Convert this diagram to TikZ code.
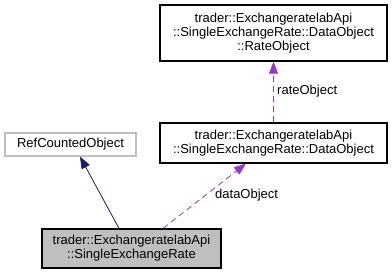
\documentclass[tikz,border=0pt]{standalone}
\usepackage{fontspec}
\setmainfont{Liberation Sans}
\usetikzlibrary{arrows.meta}
\definecolor{edgeblue}{HTML}{191970}
\definecolor{edgepurple}{HTML}{9A32CD}
\definecolor{grey75}{HTML}{BFBFBF}
\begin{document}
\begin{tikzpicture}[x=1pt,y=-1pt,
  font=\fontsize{13}{14.2}\selectfont,
  classbox/.style={draw=black, line width=1.2pt, align=center, inner sep=0pt},
  plainbox/.style={draw=grey75, line width=1.2pt, align=center, inner sep=0pt},
  inherit/.style={draw=edgeblue, line width=0.8pt, -{Triangle[length=12pt,width=9pt]}},
  usage/.style={draw=edgepurple, line width=0.8pt, dash pattern=on 6pt off 4pt, -{Triangle[length=12pt,width=9pt]}},
  edgelabel/.style={inner sep=0pt, anchor=west}]
  \useasboundingbox (0,0) rectangle (392,275);

  \node[classbox, minimum width=227pt, minimum height=56pt] (rate) at (273.5,33)
    {trader::ExchangeratelabApi\\::SingleExchangeRate::DataObject\\::RateObject};
  \node[classbox, minimum width=227pt, minimum height=40pt] (data) at (273.5,143)
    {trader::ExchangeratelabApi\\::SingleExchangeRate::DataObject};
  \node[plainbox, minimum width=131pt, minimum height=23pt] (ref) at (70.5,144.5)
    {RefCountedObject};
  \node[classbox, fill=grey75, minimum width=179pt, minimum height=39pt] (ser) at (131.5,248.5)
    {trader::ExchangeratelabApi\\::SingleExchangeRate};

  \draw[inherit] ([xshift=-12.5pt]ser.north) -- ([xshift=9.5pt]ref.south);
  \draw[usage] ([xshift=31.5pt]ser.north) -- ([xshift=-27.5pt]data.south);
  \draw[usage] (data.north) -- (rate.south);

  \node[edgelabel] (lbldata) at (215,195) {dataObject};
  \node[edgelabel] (lblrate) at (277,91) {rateObject};
\end{tikzpicture}
\end{document}
